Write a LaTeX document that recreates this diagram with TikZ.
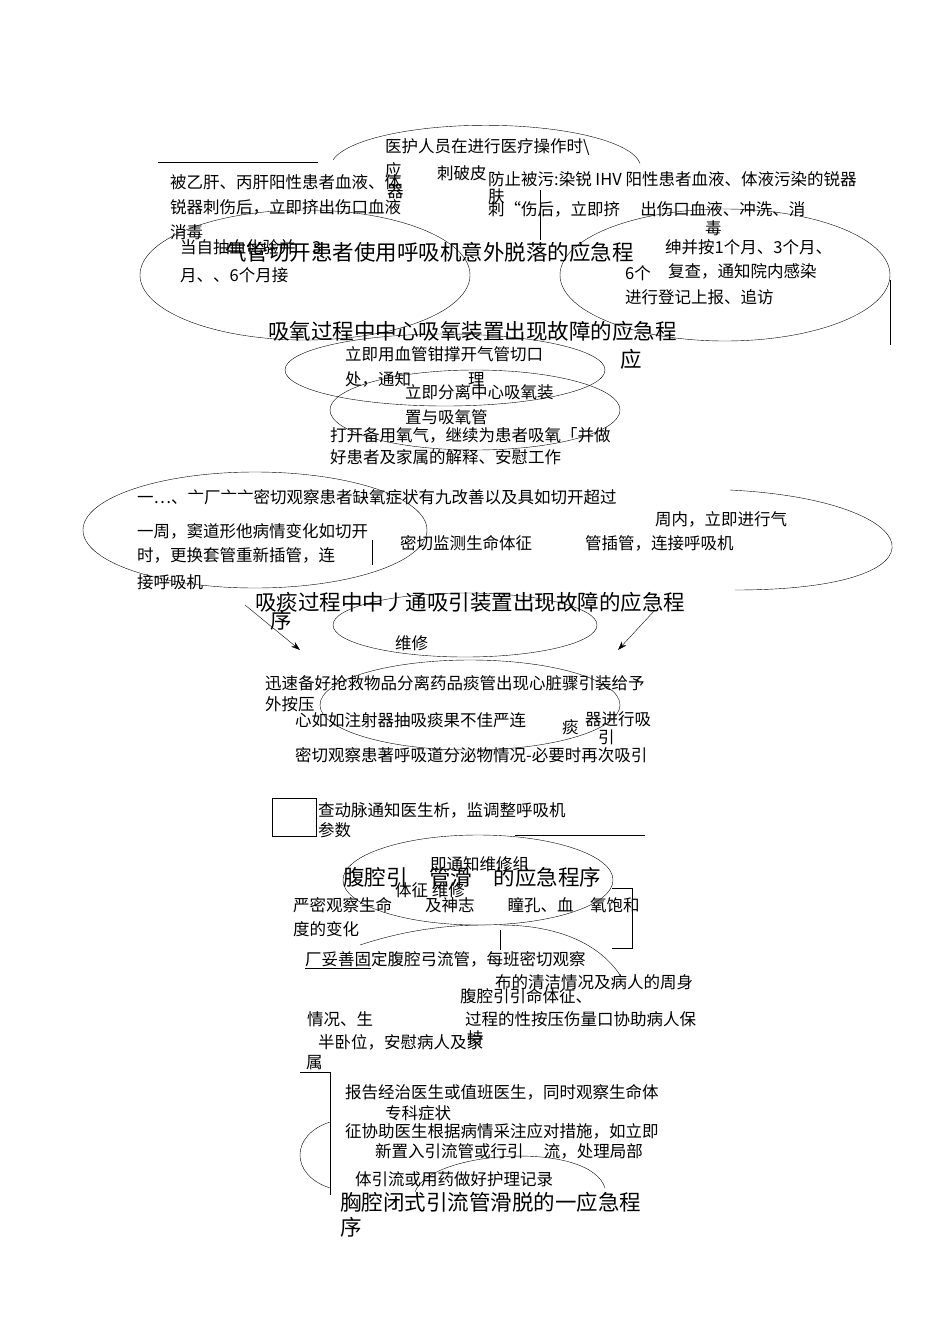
\documentclass[tikz,border=0pt]{standalone}
\usepackage{fontspec}
\setmainfont{Noto Sans CJK SC}
\usetikzlibrary{arrows.meta}
\begin{document}
\begin{tikzpicture}[x=1pt,y=-1pt,
  t/.style={anchor=north west,inner sep=0pt,font=\fontsize{16.5}{18}\selectfont},
  h/.style={anchor=north west,inner sep=0pt,font=\fontsize{21.5}{23}\selectfont},
  ln/.style={draw,thin,black},
  ar/.style={thin,-{Stealth[length=9pt,width=6pt]}}]
\useasboundingbox[fill=white] (0,0) rectangle (950,1344);
% ---- section 1 shapes
\draw[ln] (333,160) arc[start angle=190,end angle=355,x radius=155,y radius=42];
\draw[ln] (305,275) ellipse[x radius=165,y radius=65];
\draw[ln] (725,275) ellipse[x radius=165,y radius=66];
\draw[ln] (445,370) ellipse[x radius=160,y radius=36];
\draw[ln] (475,410) ellipse[x radius=145,y radius=40];
\draw[ln] (158,162) -- (318,162);
\draw[ln] (890,280) -- (890,345);
\draw[ln] (540,190) -- (540,240);
% ---- section 1 text
\node[t] (a1) at (385,138) {医护人员在进行医疗操作时\textbackslash};
\node[t] (a2) at (385,162) {应};
\node[t] (a3) at (387,184) {器};
\node[t] (a4) at (437,165) {刺破皮};
\node[t] (a5) at (488,188) {肤};
\node[t] (a6) at (170,174) {被乙肝、丙肝阳性患者血液、体};
\node[t] (a7) at (170,199) {锐器刺伤后，立即挤出伤口血液};
\node[t] (a8) at (170,224) {消毒};
\node[t] (a9) at (488,171) {防止被污:染锐 IHV 阳性患者血液、体液污染的锐器};
\node[t] (a10) at (488,201) {刺“伤后，立即挤\quad\ 出伤口血液、冲洗、消};
\node[t] (a11) at (705,220) {毒};
\node[t] (a12) at (180,239) {当自抽血化验并\quad 3};
\node[t] (a13) at (180,267) {月、、6个月接};
\node[h] (T1) at (225,242) {气管切开患者使用呼吸机意外脱落的应急程};
\node[t] (a14) at (665,239) {绅并按1个月、3个月、};
\node[t] (a15) at (625,265) {6个};
\node[t] (a16) at (668,263) {复查，通知院内感染};
\node[t] (a17) at (625,289) {进行登记上报、追访};
\node[h] (T2) at (268,321) {吸氧过程中中心吸氧装置出现故障的应急程};
\node[h] (T2b) at (620,349) {应};
\node[t] (b1) at (345,346) {立即用血管钳撑开气管切口};
\node[t] (b2) at (345,371) {处，通知\qquad\quad\ \ 理};
\node[t] (b3) at (405,384) {立即分离中心吸氧装};
\node[t] (b4) at (405,409) {置与吸氧管};
\node[t] (b5) at (330,427) {打开备用氧气，继续为患者吸氧「并做};
\node[t] (b6) at (330,449) {好患者及家属的解释、安慰工作};
% ---- section 2 shapes
\draw[ln] (255,530) ellipse[x radius=172,y radius=58];
\draw[ln] (730,490) .. controls (930,500) and (960,590) .. (735,590);
\draw[ln] (372,540) -- (372,565);
\draw[ln] (465,625) ellipse[x radius=132,y radius=32];
\draw[ln] (470,705) ellipse[x radius=150,y radius=45];
\coordinate (p1) at (245,605); \coordinate (p2) at (300,650);
\coordinate (p3) at (655,610); \coordinate (p4) at (618,650);
\draw[ar] (p1) -- (p2);
\draw[ar] (p3) -- (p4);
% ---- section 2 text
\node[t] (c1) at (137,489) {一…、亠厂亠亠密切观察患者缺氧症状有九改善以及具如切开超过};
\node[t] (c2) at (137,523) {一周，窦道形他病情变化如切开};
\node[t] (c3) at (137,547) {时，更换套管重新插管，连};
\node[t] (c4) at (137,574) {接呼吸机};
\node[t] (c5) at (400,535) {密切监测生命体征};
\node[t] (c6) at (655,511) {周内，立即进行气};
\node[t] (c7) at (585,535) {管插管，连接呼吸机};
\node[h] (T3) at (255,592) {吸痰过程中中丿通吸引装置出现故障的应急程};
\node[h] (T3b) at (270,610) {序};
\node[t] (c8) at (395,635) {维修};
\node[t] (c9) at (265,675) {迅速备好抢救物品分离药品痰管出现心脏骤引装给予};
\node[t] (c10) at (265,696) {外按压};
\node[t] (c11) at (295,712) {心如如注射器抽吸痰果不佳严连};
\node[t] (c12) at (562,719) {痰};
\node[t] (c13) at (585,711) {器进行吸};
\node[t] (c14) at (598,730) {引};
\node[t] (c15) at (295,747) {密切观察患著呼吸道分泌物情况-必要时再次吸引};
% ---- section 3 shapes
\node[draw,thin,minimum width=44pt,minimum height=38pt,anchor=north west,inner sep=0pt] (box) at (272,798) {};
\draw[ln] (515,835) -- (645,835);
\draw[ln] (478,880) ellipse[x radius=135,y radius=45];
\draw[ln] (612,888) -- (632,888) -- (632,948) -- (612,948);
\draw[ln] (360,945) .. controls (420,925) and (470,925) .. (485,925);
\draw[ln] (500,925) .. controls (560,925) and (600,945) .. (620,975);
\draw[ln] (500,930) -- (500,950);
\draw[ln] (300,1072) -- (330,1072) -- (330,1195);
\draw[ln] (330,1122) .. controls (290,1135) and (290,1175) .. (330,1188);
\draw[ln] (415,1192) .. controls (430,1150) and (590,1140) .. (605,1188);
% ---- section 3 text
\node[t] (d1) at (318,802) {查动脉通知医生析，监调整呼吸机};
\node[t] (d2) at (318,822) {参数};
\node[t] (d3) at (430,856) {即通知维修组};
\node[h] (T4) at (343,867) {腹腔引\quad 管滑\quad 的应急程序};
\node[t] (d4) at (395,882) {体征 维修};
\node[t] (d5) at (293,897) {严密观察生命\qquad 及神志\qquad 瞳孔、血\quad 氧饱和};
\node[t] (d6) at (293,921) {度的变化};
\node[t] (d7) at (305,951) {\underline{厂妥善固}定腹腔弓流管，每班密切观察};
\node[t] (d8) at (495,974) {布的清洁情况及病人的周身};
\node[t] (d9) at (460,988) {腹腔引引命体征、};
\node[t] (d10) at (307,1011) {情况、生};
\node[t] (d11) at (465,1011) {过程的性按压伤量口协助病人保};
\node[t] (d12) at (467,1030) {持};
\node[t] (d13) at (318,1034) {半卧位，安慰病人及家};
\node[t] (d14) at (306,1055) {属};
\node[t] (e1) at (345,1084) {报告经治医生或值班医生，同时观察生命体};
\node[t] (e2) at (385,1105) {专科症状};
\node[t] (e3) at (345,1123) {征协助医生根据病情采注应对措施，如立即};
\node[t] (e4) at (375,1143) {新置入引流管或行引\quad\ 流，处理局部};
\node[t] (e5) at (355,1171) {体引流或用药做好护理记录};
\node[h] (T5) at (340,1192) {胸腔闭式引流管滑脱的一应急程};
\node[h] (T5b) at (340,1217) {序};
\end{tikzpicture}
\end{document}
